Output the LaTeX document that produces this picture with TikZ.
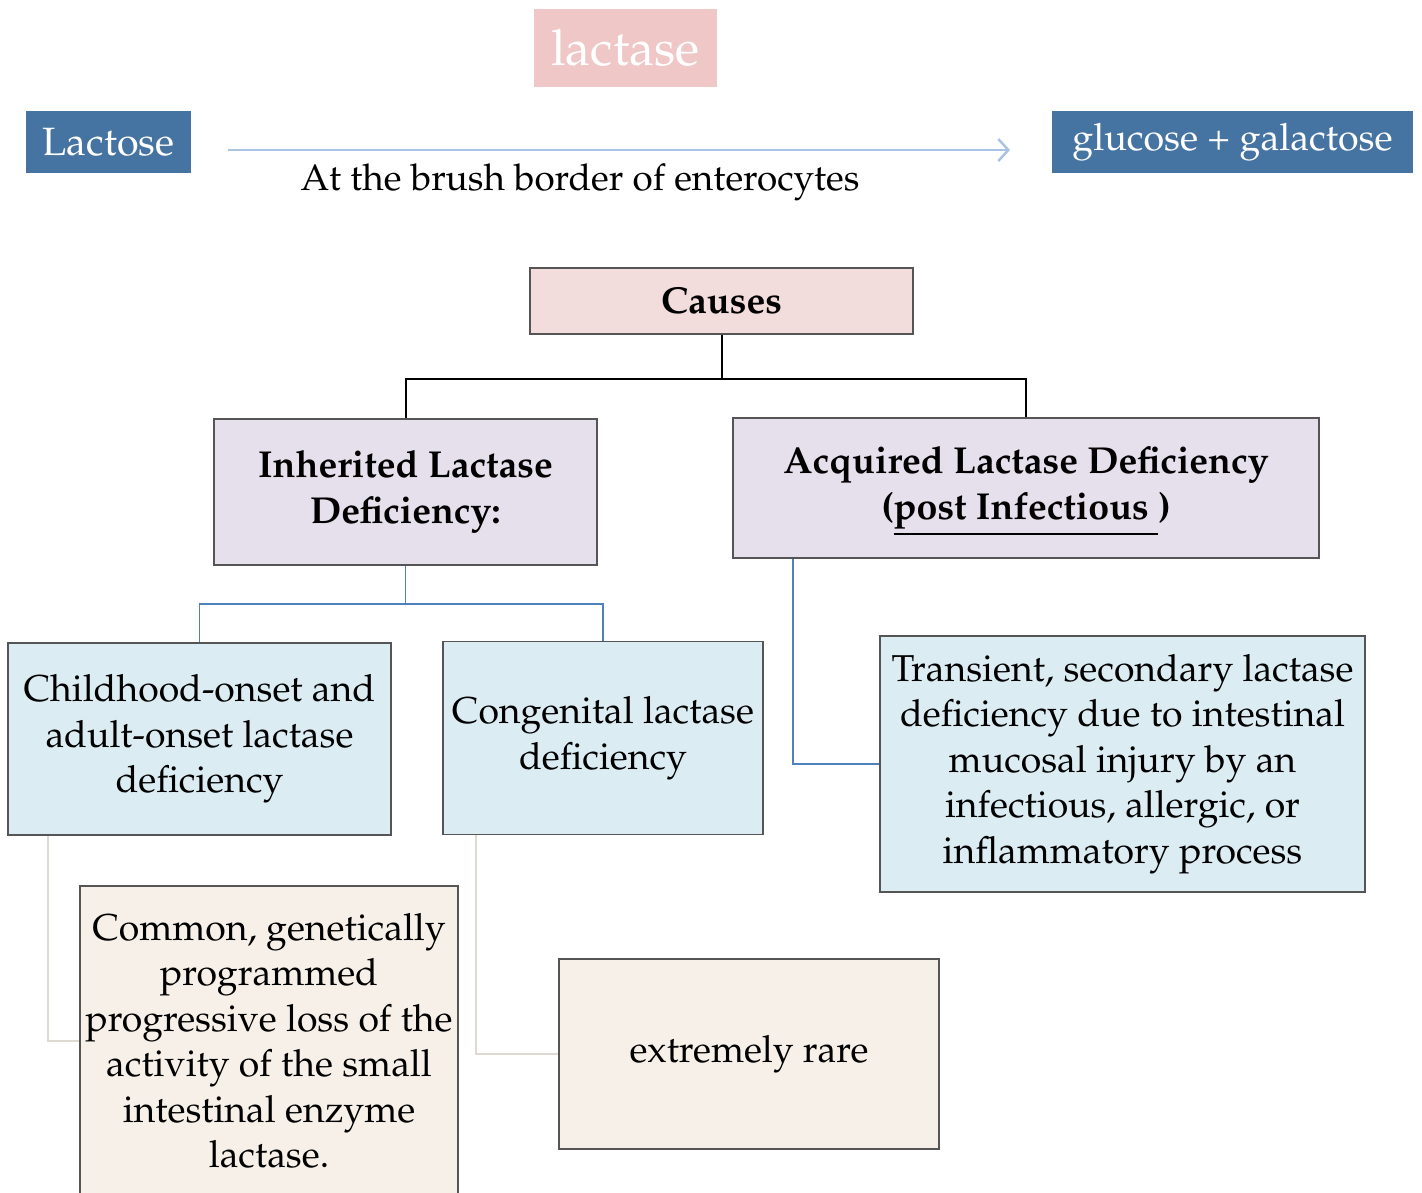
\documentclass[tikz,border=0pt]{standalone}
\usepackage[T1]{fontenc}
\usepackage{mathpazo}
\usetikzlibrary{arrows.meta}
\definecolor{topblue}{RGB}{70,116,162}
\definecolor{toppink}{RGB}{238,199,198}
\definecolor{arrowblue}{RGB}{168,196,226}
\definecolor{causefill}{RGB}{242,220,220}
\definecolor{lavfill}{RGB}{229,224,236}
\definecolor{lbluefill}{RGB}{219,236,242}
\definecolor{beigefill}{RGB}{246,240,233}
\definecolor{bordergray}{RGB}{85,85,85}
\definecolor{linkblue}{RGB}{79,129,189}
\definecolor{linkbeige}{RGB}{222,218,210}
\begin{document}
\begin{tikzpicture}[x=1pt,y=-1pt,
  box/.style={draw=bordergray, line width=1.3pt, align=center, inner sep=0pt, text=black,
    font=\fontsize{37.4}{45.5}\selectfont},
  boldbox/.style={box, font=\fontsize{37.5}{46}\selectfont\bfseries},
  topbox/.style={fill=#1, draw=none, text=white, inner sep=0pt},
  blackline/.style={draw=black, line width=2pt},
  blueline/.style={draw=linkblue, line width=1.8pt},
  beigeline/.style={draw=linkbeige, line width=1.8pt}]
\useasboundingbox (0,0) rectangle (1422,1192);

% top row
\node[topbox=toppink, minimum width=183pt, minimum height=78pt, font=\fontsize{50}{58}\selectfont] (lactase) at (625.5,48) {lactase};
\node[topbox=topblue, minimum width=165pt, minimum height=62pt, font=\fontsize{39.5}{46}\selectfont] (lactose) at (108.5,142) {Lactose};
\node[topbox=topblue, minimum width=361pt, minimum height=62pt, font=\fontsize{37.6}{44}\selectfont] (glucose) at (1232.5,142) {glucose + galactose};
\node[inner sep=0pt, font=\fontsize{36.9}{44}\selectfont] (brush) at (580,182) {At the brush border of enterocytes};
\coordinate (a1) at (228,150);
\coordinate (a2) at (1010,150);
\draw[draw=arrowblue, line width=2pt, -{Straight Barb[length=10pt,width=22pt,line width=2.5pt]}] (a1) -- (a2);

% hierarchy
\node[boldbox, fill=causefill, minimum width=383pt, minimum height=66pt] (causes) at (721.5,301) {Causes};
\node[boldbox, fill=lavfill, minimum width=383pt, minimum height=146pt] (inh) at (405.5,492) {Inherited Lactase\\Deficiency:};
\node[boldbox, fill=lavfill, minimum width=586pt, minimum height=140pt] (acq) at (1026,488) {};
\node[boldbox, draw=none, fill=none] (acqtext) at (1026,491) {Acquired Lactase Deficiency\\(\underline{post Infectious\ })};
\node[box, fill=lbluefill, minimum width=383pt, minimum height=192pt] (child) at (199.5,739) {Childhood-onset and\\adult-onset lactase\\deficiency};
\node[box, fill=lbluefill, minimum width=320pt, minimum height=193pt] (cong) at (603,738) {Congenital lactase\\deficiency};
\node[box, fill=lbluefill, minimum width=485pt, minimum height=256pt] (trans) at (1122.5,764) {Transient, secondary lactase\\deficiency due to intestinal\\mucosal injury by an\\infectious, allergic, or\\inflammatory process};
\node[box, fill=beigefill, minimum width=378pt, minimum height=310pt] (common) at (269,1041) {Common, genetically\\programmed\\progressive loss of the\\activity of the small\\intestinal enzyme\\lactase.};
\node[box, fill=beigefill, minimum width=380pt, minimum height=190pt] (rare) at (749,1054) {extremely rare};

% connectors
\draw[blackline] (causes.south) -- ++(0,44) -| (inh.north);
\draw[blackline] (causes.south) -- ++(0,44) -| (acq.north);
\draw[blueline] (inh.south) -- ++(0,38) -| (child.north);
\draw[blueline] (inh.south) -- ++(0,38) -| (cong.north);
\draw[blueline] ([xshift=-233pt]acq.south) |- (trans.west);
\draw[beigeline] ([xshift=-151.5pt]child.south) |- (common.west);
\draw[beigeline] ([xshift=-127pt]cong.south) |- (rare.west);
\end{tikzpicture}
\end{document}
